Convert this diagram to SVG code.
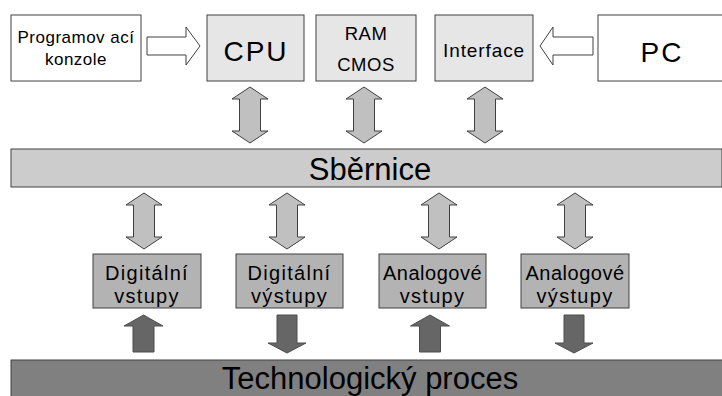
<svg xmlns="http://www.w3.org/2000/svg" xmlns:xlink="http://www.w3.org/1999/xlink" width="722" height="396" viewBox="0 0 722 396">
<style>
  text { font-family: "Liberation Sans", Arial, sans-serif; fill: #000; text-anchor: middle; }
  .box { stroke: #404040; stroke-width: 1; }
  .white { fill: #ffffff; }
  .light { fill: #e6e6e6; }
  .bus { fill: #cccccc; }
  .io { fill: #b3b3b3; }
  .proc { fill: #808080; }
  .dbl { fill: #c0c0c0; stroke: #404040; stroke-width: 1; }
  .hollow { fill: #ffffff; stroke: #404040; stroke-width: 1; }
  .solid { fill: #666666; stroke: #4d4d4d; stroke-width: 1; }
</style>
<defs>
  <path id="dbl" d="M0,0 L18,12 L10.5,12 L10.5,44 L18,44 L0,56 L-18,44 L-10.5,44 L-10.5,12 L-18,12 Z"/>
  <path id="up" d="M0,0 L19.5,11 L10.5,11 L10.5,37 L-10.5,37 L-10.5,11 L-19.5,11 Z"/>
  <path id="down" d="M-10,0 L10,0 L10,28 L19,28 L0,38 L-19,28 L-10,28 Z"/>
</defs>

<g id="bus">
  <rect class="box bus" x="11" y="149" width="711" height="38"/>
  <text x="370" y="180" font-size="31">Sběrnice</text>
</g>
<g id="process">
  <rect class="box proc" x="11" y="360" width="712" height="40"/>
  <text x="370" y="389" font-size="31">Technologický proces</text>
</g>

<g id="konzole">
  <rect class="box white" x="11" y="15" width="130" height="66"/>
  <text x="76" y="43" font-size="17" letter-spacing="0.5">Programov ací</text>
  <text x="76" y="65" font-size="17" letter-spacing="0.5">konzole</text>
</g>
<g id="cpu">
  <rect class="box light" x="207" y="15" width="97" height="66"/>
  <text x="256" y="61" font-size="28" letter-spacing="2">CPU</text>
</g>
<g id="ram">
  <rect class="box light" x="316" y="15" width="100" height="66"/>
  <text x="366" y="40" font-size="18.5" letter-spacing="0.5">RAM</text>
  <text x="366" y="71" font-size="18.5" letter-spacing="0.5">CMOS</text>
</g>
<g id="interface">
  <rect class="box light" x="435" y="15" width="98" height="66"/>
  <text x="484" y="57" font-size="19" letter-spacing="0.9">Interface</text>
</g>
<g id="pc">
  <rect class="box white" x="598" y="15" width="126" height="66"/>
  <text x="662" y="62" font-size="28" letter-spacing="2">PC</text>
</g>

<g id="dig-in">
  <rect class="box io" x="93" y="254" width="108" height="54"/>
  <text x="147" y="280" font-size="20" letter-spacing="1.3">Digitální</text>
  <text x="147" y="303" font-size="20" letter-spacing="1.3">vstupy</text>
</g>
<g id="dig-out">
  <rect class="box io" x="236" y="254" width="107" height="54"/>
  <text x="289.5" y="280" font-size="20" letter-spacing="1.3">Digitální</text>
  <text x="289.5" y="303" font-size="20" letter-spacing="1.3">výstupy</text>
</g>
<g id="an-in">
  <rect class="box io" x="379" y="254" width="107" height="54"/>
  <text x="432.5" y="280" font-size="20" letter-spacing="0.5">Analogové</text>
  <text x="432.5" y="303" font-size="20" letter-spacing="1.3">vstupy</text>
</g>
<g id="an-out">
  <rect class="box io" x="521" y="254" width="108" height="54"/>
  <text x="575" y="280" font-size="20" letter-spacing="0.5">Analogové</text>
  <text x="575" y="303" font-size="20" letter-spacing="1.3">výstupy</text>
</g>

<g id="connectors">
  <path class="hollow" d="M147,37 L186,37 L186,27 L200,46 L186,65 L186,55 L147,55 Z"/>
  <path class="hollow" d="M593,37 L553,37 L553,27 L540,46 L553,65 L553,55 L593,55 Z"/>
  <use xlink:href="#dbl" class="dbl" x="250" y="87"/>
  <use xlink:href="#dbl" class="dbl" x="364" y="87"/>
  <use xlink:href="#dbl" class="dbl" x="485" y="87"/>
  <use xlink:href="#dbl" class="dbl" x="144" y="193"/>
  <use xlink:href="#dbl" class="dbl" x="287" y="193"/>
  <use xlink:href="#dbl" class="dbl" x="439" y="193"/>
  <use xlink:href="#dbl" class="dbl" x="575" y="193"/>
  <use xlink:href="#up" class="solid" x="143.5" y="315"/>
  <use xlink:href="#down" class="solid" x="287" y="315"/>
  <use xlink:href="#up" class="solid" x="430" y="315"/>
  <use xlink:href="#down" class="solid" x="574" y="315"/>
</g>
</svg>
